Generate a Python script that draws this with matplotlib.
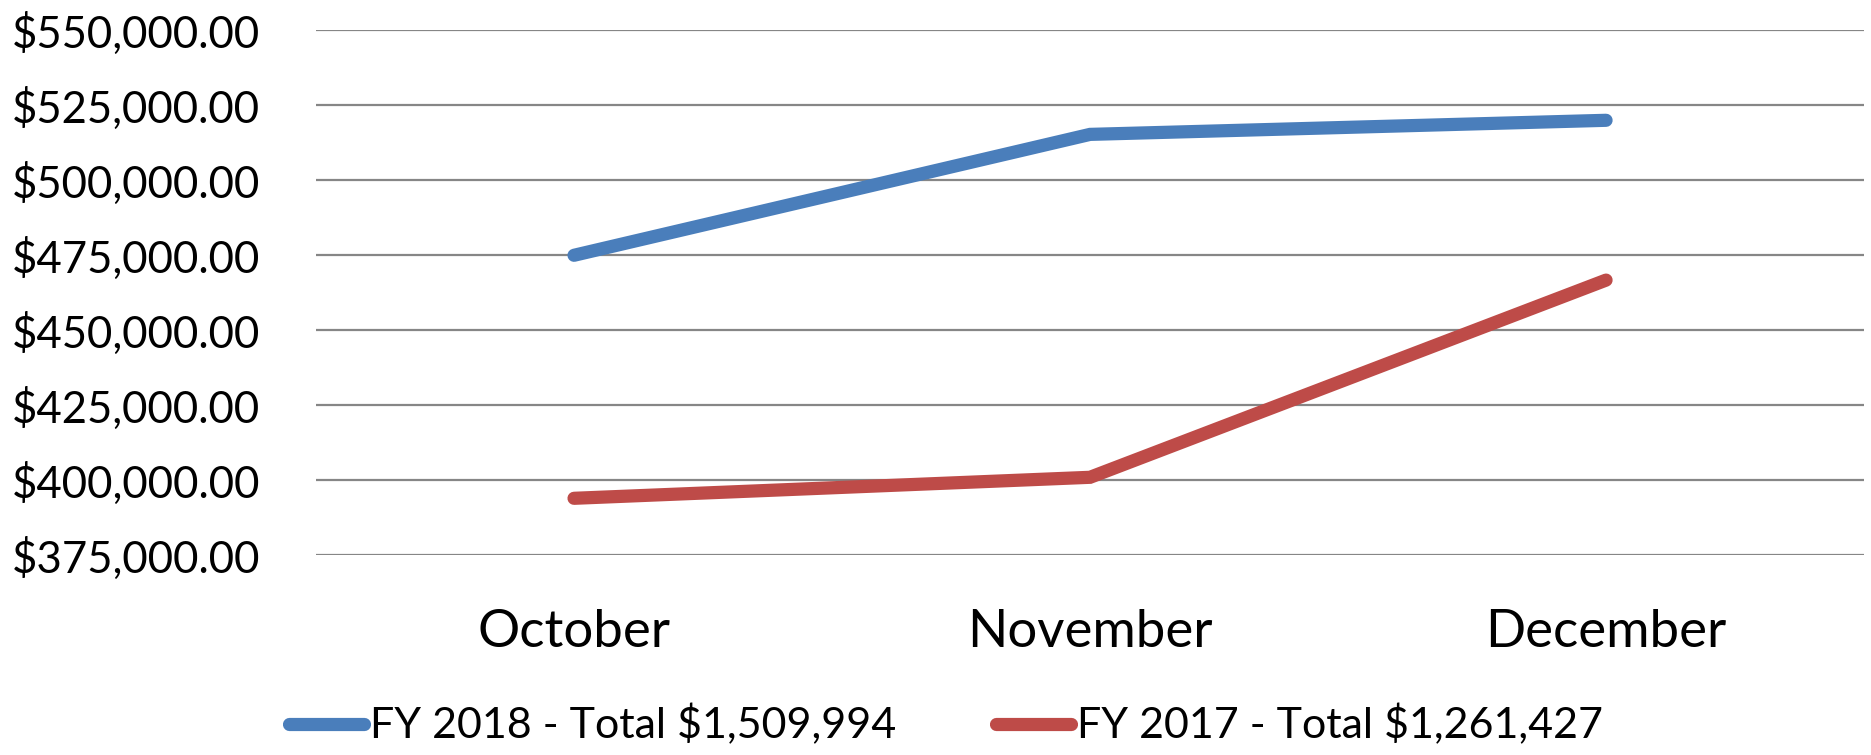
import matplotlib
matplotlib.use('Agg')
import matplotlib.pyplot as plt
from matplotlib.ticker import FuncFormatter

plt.rcParams['font.family'] = ['Lato', 'DejaVu Sans']

months = ['October', 'November', 'December']
fy2018 = [474900, 515200, 519894]
fy2017 = [393900, 400900, 466627]
label_2018 = 'FY 2018 - Total $1,509,994'
label_2017 = 'FY 2017 - Total $1,261,427'
y_ticks = [375000, 400000, 425000, 450000, 475000, 500000, 525000, 550000]

fig = plt.figure(figsize=(18.71, 7.55), dpi=100, facecolor='white')
ax = fig.add_axes([0.1689, 0.2649, 0.8274, 0.6954])

x = list(range(len(months)))
ax.plot(x, fy2018, color='#4A7EBB', linewidth=9.5, solid_capstyle='round',
        solid_joinstyle='miter', label=label_2018, zorder=3)
ax.plot(x, fy2017, color='#BE4B48', linewidth=9.5, solid_capstyle='round',
        solid_joinstyle='miter', label=label_2017, zorder=3)

ax.set_xlim(-0.5, 2.5)
ax.set_ylim(375000, 550000)
ax.set_yticks(y_ticks)
ax.yaxis.set_major_formatter(FuncFormatter(lambda v, p: f'${v:,.2f}'))
ax.set_xticks(x)
ax.set_xticklabels(months)

ax.grid(axis='y', color='#868686', linewidth=1.6)
ax.set_axisbelow(True)
for s in ax.spines.values():
    s.set_visible(False)
ax.tick_params(axis='y', length=0, pad=40, labelsize=31.5)
ax.tick_params(axis='x', length=0, pad=39, labelsize=38)

fig.legend(loc='center', bbox_to_anchor=(946 / 1871, 1 - 725 / 755), ncol=2,
           frameon=False, fontsize=31, handlelength=1.75, handletextpad=0.15,
           columnspacing=2.3, borderpad=0)

fig.savefig('out.png', dpi=100, facecolor='white')
